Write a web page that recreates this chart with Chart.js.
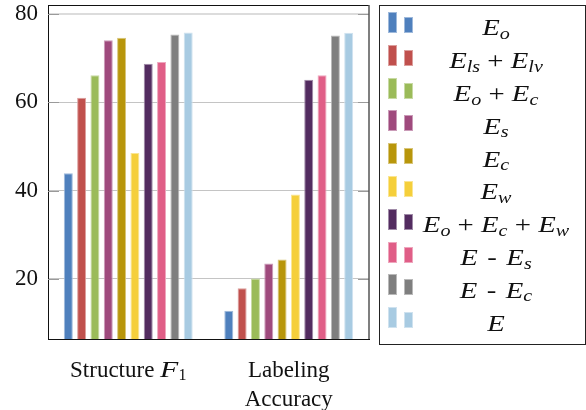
<!DOCTYPE html>
<html><head><meta charset="utf-8">
<script src="https://cdn.jsdelivr.net/npm/chart.js@4.4.0/dist/chart.umd.min.js"></script>
<style>
html,body{margin:0;padding:0;background:#fff;}
#wrap{position:relative;width:586px;height:410px;overflow:hidden;font-family:"Liberation Serif",serif;color:#111;}
#c{position:absolute;left:0;top:0;}
#legend{position:absolute;left:379px;top:5px;width:207px;height:340px;border:1px solid #222;box-sizing:border-box;}
.sw{position:absolute;box-sizing:border-box;border:1px solid;}
.lt{position:absolute;left:396px;width:200px;text-align:center;font-size:23px;line-height:23px;white-space:nowrap;transform:scaleX(1.25);transform-origin:50% 50%;}
.op{margin:0 0.25em;font-style:normal;}
.op.hy{margin:0 0.33em;}
.sb{font-size:70%;position:relative;top:0.22em;}
</style></head><body>
<div id="wrap"><canvas id="c" width="586" height="410"></canvas><div id="legend"></div></div>
<script>
const categories = [["Structure $F_1$"], ["Labeling", "Accuracy"]];
const seriesNames = ["$E_o$", "$E_{ls} + E_{lv}$", "$E_o + E_c$", "$E_s$", "$E_c$", "$E_w$", "$E_o + E_c + E_w$", "$E - E_s$", "$E - E_c$", "$E$"];
const structureF1 = [43.9, 61.0, 66.1, 74.0, 74.6, 48.5, 68.7, 69.1, 75.3, 75.8];
const labelingAccuracy = [12.8, 17.9, 20.1, 23.5, 24.4, 39.1, 65.1, 66.1, 75.1, 75.7];
const yTicks = [20, 40, 60, 80];
const seriesColors = ["#4f80bd", "#c0504d", "#9bbb59", "#9f4a7d", "#b8960b", "#f5cf3b", "#532c60", "#e05e87", "#7f7f7f", "#a8cbe2"];

function lighten(hex, f){
  const n = parseInt(hex.slice(1),16);
  const r=(n>>16)&255,g=(n>>8)&255,b=n&255;
  const m=v=>Math.round(v+(255-v)*f);
  return 'rgb('+m(r)+','+m(g)+','+m(b)+')';
}
function tokenize(str){
  const out=[]; const parts=str.split('$');
  parts.forEach((p,k)=>{
    if(k%2===0){ if(p) out.push({t:p,it:false,sub:false,op:false}); return; }
    let i=0;
    while(i<p.length){
      const ch=p[i];
      if(ch===' '){i++;continue;}
      if(ch==='+'||ch==='-'){out.push({t:ch,op:true});i++;continue;}
      if(ch==='_'){
        let s;
        if(p[i+1]==='{'){const e=p.indexOf('}',i+2); s=p.slice(i+2,e); i=e+1;}
        else {s=p[i+1]; i+=2;}
        out.push({t:s,it:/[A-Za-z]/.test(s),sub:true});
        continue;
      }
      out.push({t:ch,it:/[A-Za-z]/.test(ch),sub:false,math:true}); i++;
    }
  });
  return out;
}
function drawRich(ctx, tokens, cx, baseline, size, family){
  const pieces = tokens.map(tk=>{
    const fs = tk.sub? size*0.7 : size;
    const font = (tk.it?'italic ':'')+fs+'px '+family;
    ctx.font=font;
    const sx = (tk.math && tk.it) ? 1.3 : 1;
    const w=ctx.measureText(tk.t).width*sx;
    const m = tk.op? size*0.25:0;
    return {tk,font,w,m,sx,dy: tk.sub? size*0.15:0};
  });
  const total = pieces.reduce((a,p)=>a+p.w+2*p.m,0);
  let x=cx-total/2;
  ctx.textAlign='left'; ctx.textBaseline='alphabetic';
  pieces.forEach(p=>{
    ctx.font=p.font; x+=p.m;
    ctx.save(); ctx.translate(x, baseline+p.dy); ctx.scale(p.sx,1); ctx.fillText(p.tk.t,0,0); ctx.restore();
    x+=p.w+p.m;
  });
}
function richHTML(tokens){
  return tokens.map(tk=>{
    const txt = tk.t.replace(/&/g,'&amp;').replace(/</g,'&lt;');
    if(tk.op) return '<span class="op'+(tk.t==='-'?' hy':'')+'">'+txt+'</span>';
    let s = tk.it? '<i>'+txt+'</i>' : txt;
    if(tk.sub) s = '<span class="sb">'+s+'</span>';
    return s;
  }).join('');
}

const FAMILY = '"Liberation Serif"';
const framePlugin = {
  id:'frame',
  afterDraw(chart){
    const {ctx, chartArea:a, scales:{x,y}} = chart;
    ctx.save();
    ctx.strokeStyle='#9a9a9a'; ctx.lineWidth=1;
    yTicks.forEach(v=>{
      const py=Math.round(y.getPixelForValue(v))+0.5;
      ctx.beginPath(); ctx.moveTo(a.left,py); ctx.lineTo(a.left+11,py);
      ctx.moveTo(a.right-11,py); ctx.lineTo(a.right,py); ctx.stroke();
    });
    ctx.strokeStyle='#111'; ctx.lineWidth=1;
    ctx.beginPath(); ctx.moveTo(a.left, Math.round(a.top)+0.5); ctx.lineTo(a.right, Math.round(a.top)+0.5); ctx.stroke();
    ctx.strokeStyle='#555'; ctx.lineWidth=1.5;
    ctx.beginPath(); ctx.moveTo(a.right, a.top); ctx.lineTo(a.right, a.bottom); ctx.stroke();
    ctx.fillStyle='#111';
    categories.forEach((lines,i)=>{
      const px=x.getPixelForTick(i);
      lines.forEach((ln,j)=>drawRich(ctx,tokenize(ln),px,a.bottom+38+j*29,23,FAMILY));
    });
    ctx.restore();
  }
};

const datasets = seriesNames.map((name,i)=>({
  label: name,
  data: [structureF1[i], labelingAccuracy[i]],
  backgroundColor: seriesColors[i],
  borderColor: lighten(seriesColors[i],0.45),
  borderWidth: 1,
  barPercentage: 0.675,
  categoryPercentage: 0.83
}));

const chart = new Chart(document.getElementById('c'), {
  type:'bar',
  data:{ labels: categories.map(c=>c.join(' ')), datasets },
  options:{
    responsive:false, animation:false, devicePixelRatio:1,
    layout:{padding:{left:0,top:5,right:217,bottom:71}},
    plugins:{legend:{display:false}, tooltip:{enabled:false}},
    scales:{
      x:{ type:'category', offset:true,
          grid:{display:false, drawTicks:false}, ticks:{display:false},
          border:{display:true, color:'#111', width:1},
          afterFit:s=>{s.height=0; s.paddingLeft=0; s.paddingRight=0;} },
      y:{ min:6.4, max:82,
          afterBuildTicks:s=>{ s.ticks = yTicks.map(v=>({value:v})); },
          afterFit:s=>{ s.width=48; s.paddingTop=0; s.paddingBottom=0; },
          grid:{ color:c=> (c.tick && c.tick.value===80) ? '#dcdcdc' : '#c4c4c4',
                 lineWidth:c=> (c.tick && c.tick.value===80) ? 2 : 1, drawTicks:false },
          border:{display:true, color:'#111', width:1},
          ticks:{ font:{family:FAMILY, size:23}, color:'#111', padding:10 } }
    }
  },
  plugins:[framePlugin]
});

// HTML legend built from the chart's datasets
const wrap = document.getElementById('wrap');
chart.data.datasets.forEach((ds,i)=>{
  const bottom = 33 + 32.8*i;
  const tall = document.createElement('div');
  tall.className='sw';
  Object.assign(tall.style,{left:'388px',top:(bottom-21)+'px',width:'9px',height:'21px',background:ds.backgroundColor,borderColor:ds.borderColor});
  const short = document.createElement('div');
  short.className='sw';
  Object.assign(short.style,{left:'404px',top:(bottom-16)+'px',width:'9px',height:'16px',background:ds.backgroundColor,borderColor:ds.borderColor});
  const txt = document.createElement('div');
  txt.className='lt';
  txt.style.top = (35.7 + 32.8*i - 19.3)+'px';
  txt.innerHTML = richHTML(tokenize(ds.label));
  wrap.appendChild(tall); wrap.appendChild(short); wrap.appendChild(txt);
});
</script>
</body></html>
